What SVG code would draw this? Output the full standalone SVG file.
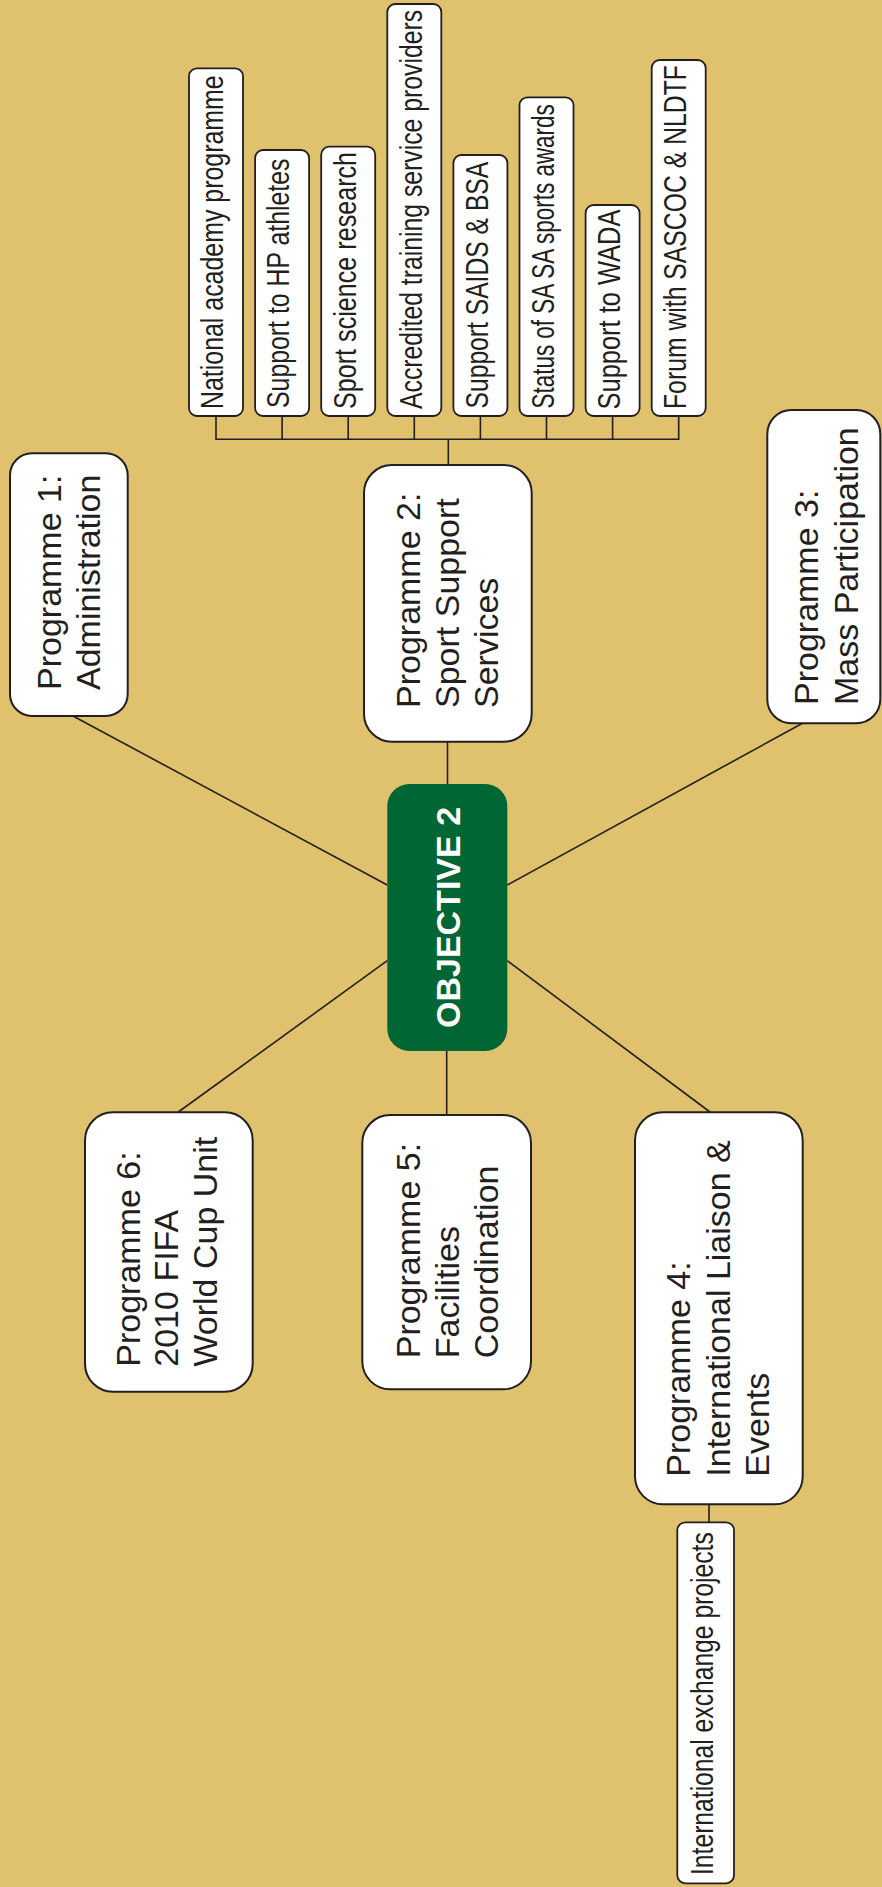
<svg xmlns="http://www.w3.org/2000/svg" width="882" height="1887" viewBox="0 0 882 1887">
<style>
.bg{fill:#dfc16e}
.box{fill:#ffffff;stroke:#231f20;stroke-width:2}
.sbox{fill:#ffffff;stroke:#231f20;stroke-width:1.8}
.line{stroke:#231f20;stroke-width:1.6;fill:none}
.big{font-family:"Liberation Sans",Arial,sans-serif;font-size:34px;fill:#231f20}
.small{font-family:"Liberation Sans",Arial,sans-serif;font-size:31px;fill:#231f20}
.obj{font-family:"Liberation Sans",Arial,sans-serif;font-size:34px;font-weight:bold;fill:#ffffff}
</style>
<rect class="bg" x="0" y="0" width="882" height="1887"/>
<g id="connectors">
<line class="line" x1="73" y1="716" x2="387.3" y2="885"/>
<line class="line" x1="803" y1="723" x2="507.3" y2="885"/>
<line class="line" x1="178.3" y1="1112" x2="387.3" y2="960.7"/>
<line class="line" x1="710" y1="1112" x2="507.3" y2="960.7"/>
<line class="line" x1="447.5" y1="741.7" x2="447.5" y2="784"/>
<line class="line" x1="446.7" y1="1051" x2="446.7" y2="1115"/>
<line class="line" x1="448.3" y1="439.3" x2="448.3" y2="465"/>
<polyline class="line" points="216,416 216,439.3 678.7,439.3 678.7,416"/>
<line class="line" x1="282.1" y1="416" x2="282.1" y2="439.3"/>
<line class="line" x1="348.2" y1="416" x2="348.2" y2="439.3"/>
<line class="line" x1="414.3" y1="416" x2="414.3" y2="439.3"/>
<line class="line" x1="480.4" y1="416" x2="480.4" y2="439.3"/>
<line class="line" x1="546.5" y1="416" x2="546.5" y2="439.3"/>
<line class="line" x1="612.6" y1="416" x2="612.6" y2="439.3"/>
<line class="line" x1="709" y1="1504.3" x2="709" y2="1522.3"/>
</g>
<g id="objective2">
<rect x="387.3" y="784" width="120" height="267" rx="22" fill="#006633"/>
<text class="obj" transform="translate(459.5,917.5) rotate(-90)" text-anchor="middle">OBJECTIVE 2</text>
</g>
<g id="prog1">
<rect class="box" x="10" y="453.3" width="117.7" height="262.7" rx="22"/>
<text class="big" transform="translate(61,690) rotate(-90)"><tspan x="0" y="0">Programme 1:</tspan><tspan x="0" y="39">Administration</tspan></text>
</g>
<g id="prog2">
<rect class="box" x="364" y="465" width="167.7" height="276.7" rx="28"/>
<text class="big" transform="translate(420,708) rotate(-90)"><tspan x="0" y="0">Programme 2:</tspan><tspan x="0" y="39">Sport Support</tspan><tspan x="0" y="78">Services</tspan></text>
</g>
<g id="prog3">
<rect class="box" x="767.3" y="410" width="113" height="313.3" rx="24"/>
<text class="big" transform="translate(818.3,705) rotate(-90)"><tspan x="0" y="0">Programme 3:</tspan><tspan x="0" y="39.5">Mass Participation</tspan></text>
</g>
<g id="prog4">
<rect class="box" x="635" y="1112.3" width="167.7" height="392" rx="28"/>
<text class="big" transform="translate(690,1476.7) rotate(-90)"><tspan x="0" y="0">Programme 4:</tspan><tspan x="0" y="39.5">International Liaison &amp;</tspan><tspan x="0" y="79">Events</tspan></text>
</g>
<g id="prog5">
<rect class="box" x="362.3" y="1115" width="168.7" height="274.3" rx="28"/>
<text class="big" transform="translate(420,1358.3) rotate(-90)"><tspan x="0" y="0">Programme 5:</tspan><tspan x="0" y="39">Facilities</tspan><tspan x="0" y="78">Coordination</tspan></text>
</g>
<g id="prog6">
<rect class="box" x="85" y="1112.3" width="167.7" height="279.4" rx="28"/>
<text class="big" transform="translate(140,1366.7) rotate(-90)"><tspan x="0" y="0">Programme 6:</tspan><tspan x="0" y="38.4">2010 FIFA</tspan><tspan x="0" y="76.8">World Cup Unit</tspan></text>
</g>
<g id="sub1">
<rect class="sbox" x="189" y="68.3" width="54" height="347.7" rx="8"/>
<text class="small" transform="translate(223.3,409) rotate(-90) scale(0.804,1)">National academy programme</text>
</g>
<g id="sub2">
<rect class="sbox" x="255.1" y="150" width="54" height="266" rx="8"/>
<text class="small" transform="translate(289.4,408) rotate(-90) scale(0.802,1)">Support to HP athletes</text>
</g>
<g id="sub3">
<rect class="sbox" x="321.2" y="146.7" width="54" height="269.3" rx="8"/>
<text class="small" transform="translate(355.5,409) rotate(-90) scale(0.811,1)">Sport science research</text>
</g>
<g id="sub4">
<rect class="sbox" x="387.3" y="4" width="54" height="412" rx="8"/>
<text class="small" transform="translate(421.6,409) rotate(-90) scale(0.799,1)">Accredited training service providers</text>
</g>
<g id="sub5">
<rect class="sbox" x="453.4" y="155" width="54" height="261" rx="8"/>
<text class="small" transform="translate(487.7,408.5) rotate(-90) scale(0.796,1)">Support SAIDS &amp; BSA</text>
</g>
<g id="sub6">
<rect class="sbox" x="519.5" y="97.3" width="54" height="318.7" rx="8"/>
<text class="small" transform="translate(553.8,408.5) rotate(-90) scale(0.724,1)">Status of SA SA sports awards</text>
</g>
<g id="sub7">
<rect class="sbox" x="585.6" y="205" width="54" height="211" rx="8"/>
<text class="small" transform="translate(619.9,409.5) rotate(-90) scale(0.821,1)">Support to WADA</text>
</g>
<g id="sub8">
<rect class="sbox" x="651.7" y="60" width="54" height="356" rx="8"/>
<text class="small" transform="translate(686,409) rotate(-90) scale(0.799,1)">Forum with SASCOC &amp; NLDTF</text>
</g>
<g id="sub9">
<rect class="sbox" x="677.3" y="1522.3" width="56.7" height="361" rx="8"/>
<text class="small" transform="translate(713.3,1875) rotate(-90) scale(0.796,1)">International exchange projects</text>
</g>
</svg>
